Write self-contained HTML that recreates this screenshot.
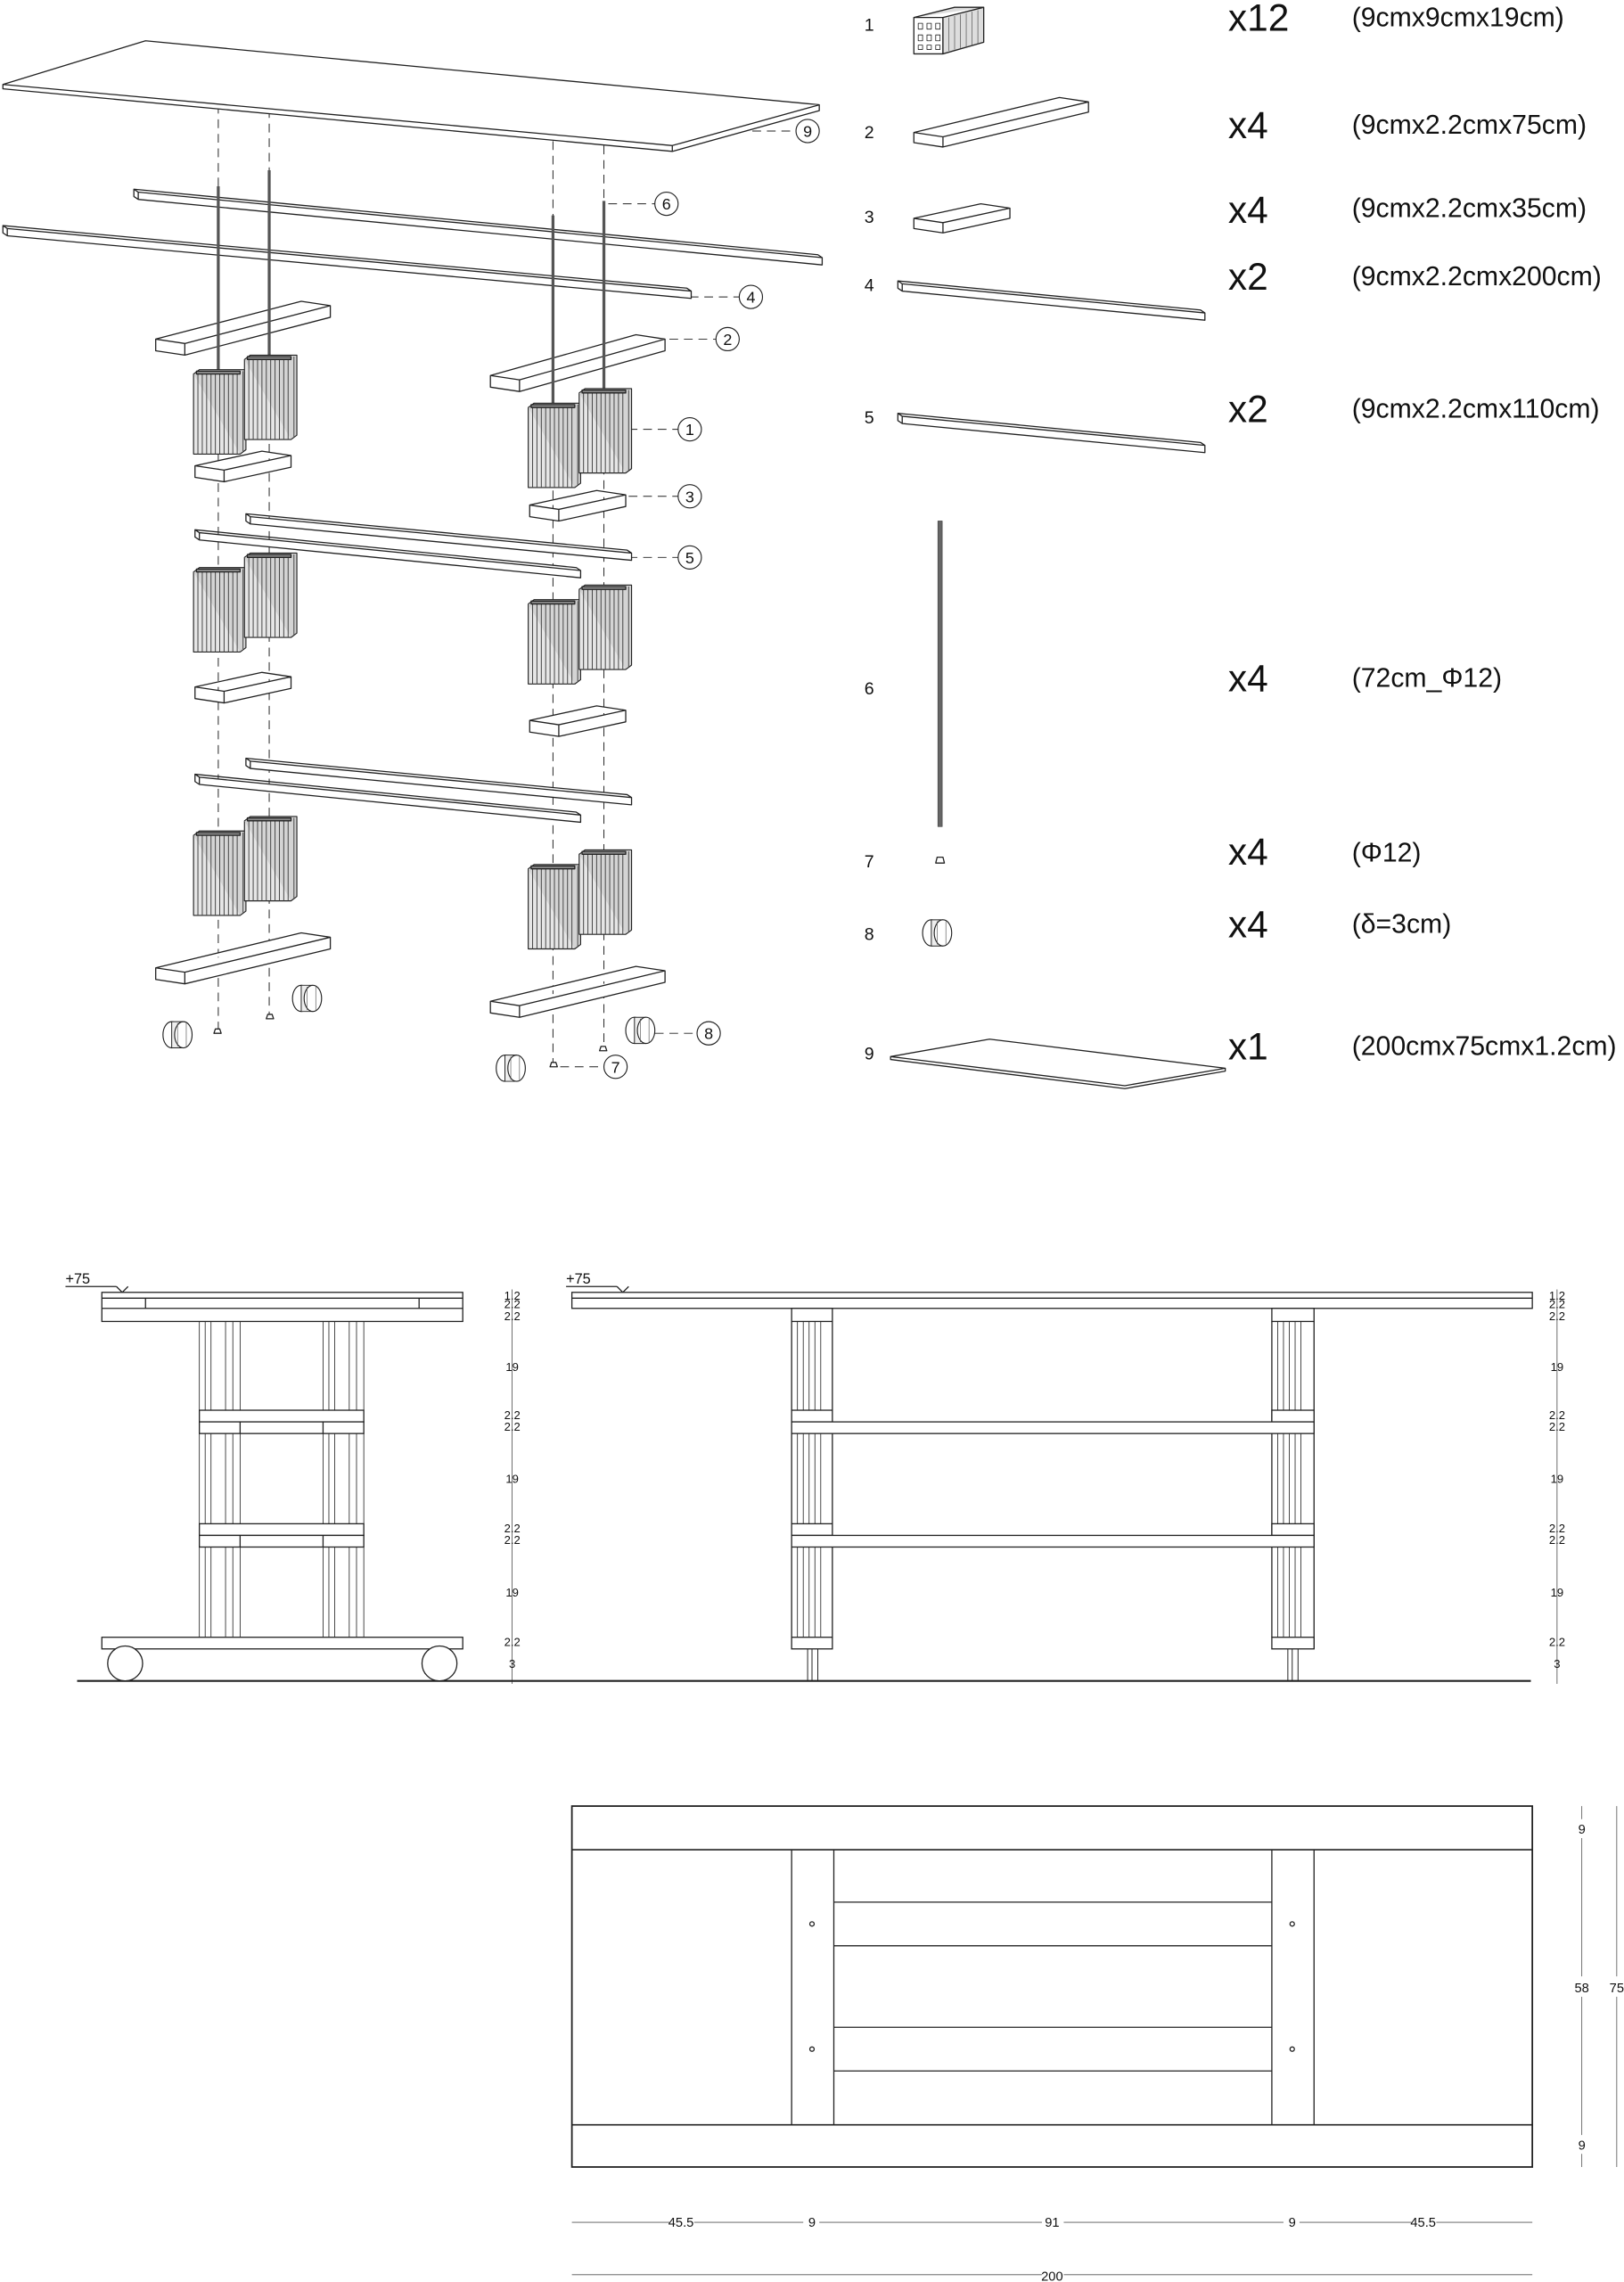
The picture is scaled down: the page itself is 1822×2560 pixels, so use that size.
<!DOCTYPE html>
<html><head><meta charset="utf-8"><style>
html,body{margin:0;padding:0;background:#fff}
svg{display:block}
text{font-family:"Liberation Sans Narrow","Liberation Sans",sans-serif;fill:#111}
</style></head><body>
<svg width="1822" height="2560" viewBox="0 0 1116 1568" xmlns="http://www.w3.org/2000/svg">
<defs>
<g id="blk">
<rect x="0" y="0" width="32" height="55" fill="#e6e6e6" stroke="#222" stroke-width="0.7"/>
<path d="M0 0 l4 -3 l32 0 l0 55 l-4 3" fill="#d4d4d4" stroke="#222" stroke-width="0.7"/>
<path d="M3 0v55M6 0v55M9 0v55M12 0v55M15 0v55M18 0v55M21 0v55M24 0v55M27 0v55M30 0v55M34 -2v55" stroke="#444" stroke-width="0.6"/>
<rect x="2" y="-2" width="30" height="2" fill="#888"/>
</g>
<g id="wh"><ellipse cx="0" cy="0" rx="6" ry="9" fill="#fff" stroke="#222" stroke-width="0.7"/><rect x="0" y="-9" width="8" height="18" fill="#eee" stroke="#222" stroke-width="0.6"/><ellipse cx="8" cy="0" rx="6" ry="9" fill="#fff" stroke="#222" stroke-width="0.7"/><path d="M4 -8v16M10 -8v16" stroke="#555" stroke-width="0.4"/></g>
</defs>
<g fill="#fff" stroke="#222" stroke-width="0.8" stroke-linejoin="round">
<g stroke-dasharray="6 4" stroke-width="0.6" fill="none">
<path d="M150 72V708M185 75V698M380 97V731M415 100V720"/>
<path d="M517 90H547M418 140H450M474 204H508M460 233H492M432 295H466M432 341H466M432 383H466M450 710H479M385 733H415"/>
</g>
<polygon points="2,58 100,28 563,72 563,76 462,104 2,61"/>
<path d="M2 58 L462 100 L563 72 M462 100 V104"/>
<!-- rails -->
<path d="M92 130 l470 45 l3 2 l0 5 l-470 -45 l-3 -2 z M92 130 l3 2 l470 45 M95 132 l0 5"/>
<path d="M2 155 l470 43 l3 2 l0 5 l-470 -43 l-3 -2 z M2 155 l3 2 l470 43 M5 157 l0 5"/>
<!-- short bars top -->
<path d="M107 233 l100 -26 l20 3 l0 8 l-100 26 l-20 -3 z M107 233 l20 3 l100 -26 M127 236 l0 8"/>
<path d="M337 258 l100 -28 l20 3 l0 8 l-100 28 l-20 -3 z M337 258 l20 3 l100 -28 M357 261 l0 8"/>
<!-- rods -->
<g stroke="#555" stroke-width="2" fill="none">
<path d="M150 128V256M185 117V246M380 148V280M415 138V268"/>
</g>
<use href="#blk" x="133" y="257"/><use href="#blk" x="168" y="247"/>
<use href="#blk" x="363" y="280"/><use href="#blk" x="398" y="270"/>
<path d="M134 320 l46 -10 l20 3 l0 8 l-46 10 l-20 -3 z M134 320 l20 3 l46 -10 M154 323 l0 8"/>
<path d="M364 347 l46 -10 l20 3 l0 8 l-46 10 l-20 -3 z M364 347 l20 3 l46 -10 M384 350 l0 8"/>
<path d="M169 353 l262 25 l3 2 l0 5 l-262 -25 l-3 -2 z M169 353 l3 2 l262 25 M172 355 l0 5"/>
<path d="M134 364 l262 26 l3 2 l0 5 l-262 -26 l-3 -2 z M134 364 l3 2 l262 26 M137 366 l0 5"/>
<use href="#blk" x="133" y="393"/><use href="#blk" x="168" y="383"/>
<use href="#blk" x="363" y="415"/><use href="#blk" x="398" y="405"/>
<path d="M134 472 l46 -10 l20 3 l0 8 l-46 10 l-20 -3 z M134 472 l20 3 l46 -10 M154 475 l0 8"/>
<path d="M364 495 l46 -10 l20 3 l0 8 l-46 10 l-20 -3 z M364 495 l20 3 l46 -10 M384 498 l0 8"/>
<path d="M169 521 l262 25 l3 2 l0 5 l-262 -25 l-3 -2 z M169 521 l3 2 l262 25 M172 523 l0 5"/>
<path d="M134 532 l262 26 l3 2 l0 5 l-262 -26 l-3 -2 z M134 532 l3 2 l262 26 M137 534 l0 5"/>
<use href="#blk" x="133" y="574"/><use href="#blk" x="168" y="564"/>
<use href="#blk" x="363" y="597"/><use href="#blk" x="398" y="587"/>
<path d="M107 665 l100 -24 l20 3 l0 8 l-100 24 l-20 -3 z M107 665 l20 3 l100 -24 M127 668 l0 8"/>
<path d="M337 688 l100 -24 l20 3 l0 8 l-100 24 l-20 -3 z M337 688 l20 3 l100 -24 M357 691 l0 8"/>
<use href="#wh" x="118" y="711"/><use href="#wh" x="207" y="686"/>
<use href="#wh" x="347" y="734"/><use href="#wh" x="436" y="708"/>
<path d="M147 710 h5 l-1 -3 h-3 z M183 700 h5 l-1 -3 h-3 z M378 733 h5 l-1 -3 h-3 z M412 722 h5 l-1 -3 h-3 z"/>
<g stroke-width="0.7">
<circle cx="555" cy="90" r="8"/><circle cx="458" cy="140" r="8"/><circle cx="516" cy="204" r="8"/>
<circle cx="500" cy="233" r="8"/><circle cx="474" cy="295" r="8"/><circle cx="474" cy="341" r="8"/>
<circle cx="474" cy="383" r="8"/><circle cx="487" cy="710" r="8"/><circle cx="423" cy="733" r="8"/>
</g>
</g>
<g font-size="11" text-anchor="middle">
<text x="555" y="94">9</text><text x="458" y="144">6</text><text x="516" y="208">4</text>
<text x="500" y="237">2</text><text x="474" y="299">1</text><text x="474" y="345">3</text>
<text x="474" y="387">5</text><text x="487" y="714">8</text><text x="423" y="737">7</text>
</g>

<g font-size="12"><text x="594" y="21">1</text><text x="594" y="95">2</text><text x="594" y="153">3</text><text x="594" y="200">4</text><text x="594" y="291">5</text><text x="594" y="477">6</text><text x="594" y="596">7</text><text x="594" y="646">8</text><text x="594" y="728">9</text></g>
<g font-size="26"><text x="844" y="21">x12</text><text x="844" y="95">x4</text><text x="844" y="153">x4</text><text x="844" y="199">x2</text><text x="844" y="290">x2</text><text x="844" y="475">x4</text><text x="844" y="594">x4</text><text x="844" y="644">x4</text><text x="844" y="728">x1</text></g>
<g font-size="18.5"><text x="929" y="18">(9cmx9cmx19cm)</text><text x="929" y="92">(9cmx2.2cmx75cm)</text><text x="929" y="149">(9cmx2.2cmx35cm)</text><text x="929" y="196">(9cmx2.2cmx200cm)</text><text x="929" y="287">(9cmx2.2cmx110cm)</text><text x="929" y="472">(72cm_Φ12)</text><text x="929" y="592">(Φ12)</text><text x="929" y="641">(δ=3cm)</text><text x="929" y="725">(200cmx75cmx1.2cm)</text></g>
<g fill="#fff" stroke="#222" stroke-width="0.8" stroke-linejoin="round">
<rect x="628" y="12" width="20" height="25"/>
<path d="M648 12 l28 -7 v24 l-28 8 z M628 12 l28 -7 h20" fill="#ddd"/>
<path d="M652 12v23M656 11v23M660 10v23M664 9v23M668 8v23M672 7v23" stroke="#666" stroke-width="0.5"/>
<path d="M631 16h3v4h-3zM637 16h3v4h-3zM643 16h3v4h-3zM631 24h3v4h-3zM637 24h3v4h-3zM643 24h3v4h-3zM631 31h3v3h-3zM637 31h3v3h-3zM643 31h3v3h-3z" stroke-width="0.5"/>
<path d="M628 91 l100 -24 l20 3 l0 7 l-100 24 l-20 -3 z M628 91 l20 3 l100 -24 M648 94 l0 7"/>
<path d="M628 150 l46 -10 l20 3 l0 7 l-46 10 l-20 -3 z M628 150 l20 3 l46 -10 M648 153 l0 7"/>
<path d="M617 193 l208 20 l3 2 l0 5 l-208 -20 l-3 -2 z M617 193 l3 2 l208 20 M620 195 l0 5"/>
<path d="M617 284 l208 20 l3 2 l0 5 l-208 -20 l-3 -2 z M617 284 l3 2 l208 20 M620 286 l0 5"/>
<rect x="644.5" y="358" width="3" height="210" fill="#666" stroke="#444" stroke-width="0.4"/>
<path d="M643 593 h6 l-1 -4 h-4 z"/>
<use href="#wh" x="640" y="641"/>
<path d="M612 726 l68 -12 l162 20 l-69 12 z M612 726 v2 l161 20 l69 -12 v-2" />
</g>

<g fill="#fff" stroke="#222" stroke-width="0.8">
<path d="M53 1155H1052" stroke-width="1.3"/>
<path d="M45 884H80M80 884l4 4 4-4" fill="none"/>
<path d="M389 884H424M424 884l4 4 4-4" fill="none"/>
<rect x="70" y="888" width="248" height="20"/>
<path d="M70 892H318M70 899H318M100 892V899M288 892V899" fill="none"/>
<rect x="70" y="1125" width="248" height="8"/>
<ellipse cx="86" cy="1143" rx="12" ry="12"/><ellipse cx="302" cy="1143" rx="12" ry="12"/>
<g fill="none" stroke-width="0.5">
<path d="M137 908V969M141 908V969M145 908V969M155 908V969M160 908V969M165 908V969M222 908V969M226 908V969M230 908V969M240 908V969M245 908V969M250 908V969"/>
<path d="M137 985V1047M141 985V1047M145 985V1047M155 985V1047M160 985V1047M165 985V1047M222 985V1047M226 985V1047M230 985V1047M240 985V1047M245 985V1047M250 985V1047"/>
<path d="M137 1063V1125M141 1063V1125M145 1063V1125M155 1063V1125M160 1063V1125M165 1063V1125M222 1063V1125M226 1063V1125M230 1063V1125M240 1063V1125M245 1063V1125M250 1063V1125"/>
</g>
<rect x="137" y="969" width="113" height="8"/><rect x="137" y="977" width="113" height="8"/>
<rect x="137" y="1047" width="113" height="8"/><rect x="137" y="1055" width="113" height="8"/>
<path d="M165 977V985M222 977V985M165 1055V1063M222 1055V1063" fill="none"/>
<rect x="393" y="888" width="660" height="11"/>
<path d="M393 892H1053" fill="none"/>
<rect x="544" y="899" width="28" height="9"/><rect x="874" y="899" width="29" height="9"/>
<g fill="none" stroke-width="0.5">
<path d="M548 908V969M552 908V969M556 908V969M560 908V969M564 908V969M878 908V969M882 908V969M886 908V969M890 908V969M894 908V969"/>
<path d="M548 985V1047M552 985V1047M556 985V1047M560 985V1047M564 985V1047M878 985V1047M882 985V1047M886 985V1047M890 985V1047M894 985V1047"/>
<path d="M548 1063V1125M552 1063V1125M556 1063V1125M560 1063V1125M564 1063V1125M878 1063V1125M882 1063V1125M886 1063V1125M890 1063V1125M894 1063V1125"/>
</g>
<path d="M544 908V1133M572 908V1125M874 908V1125M903 908V1133" fill="none"/>
<rect x="544" y="969" width="28" height="8"/><rect x="874" y="969" width="29" height="8"/>
<rect x="544" y="977" width="359" height="8"/>
<rect x="544" y="1047" width="28" height="8"/><rect x="874" y="1047" width="29" height="8"/>
<rect x="544" y="1055" width="359" height="8"/>
<rect x="544" y="1125" width="28" height="8"/><rect x="874" y="1125" width="29" height="8"/>
<path d="M555 1133V1155M558 1133V1155M562 1133V1155M885 1133V1155M888 1133V1155M892 1133V1155" fill="none" stroke-width="0.6"/>
<path d="M352 886V1157M1070 886V1157" fill="none" stroke-width="0.4"/>
</g>
<g font-size="10"><text x="45" y="882">+75</text><text x="389" y="882">+75</text></g>
<g font-size="8" text-anchor="middle">
<text x="352" y="893">1.2</text><text x="352" y="899">2.2</text><text x="352" y="907">2.2</text><text x="352" y="942">19</text><text x="352" y="975">2.2</text><text x="352" y="983">2.2</text><text x="352" y="1019">19</text><text x="352" y="1053">2.2</text><text x="352" y="1061">2.2</text><text x="352" y="1097">19</text><text x="352" y="1131">2.2</text><text x="352" y="1146">3</text>
<text x="1070" y="893">1.2</text><text x="1070" y="899">2.2</text><text x="1070" y="907">2.2</text><text x="1070" y="942">19</text><text x="1070" y="975">2.2</text><text x="1070" y="983">2.2</text><text x="1070" y="1019">19</text><text x="1070" y="1053">2.2</text><text x="1070" y="1061">2.2</text><text x="1070" y="1097">19</text><text x="1070" y="1131">2.2</text><text x="1070" y="1146">3</text>
</g>

<g fill="none" stroke="#222" stroke-width="0.8">
<rect x="393" y="1241" width="660" height="248" stroke-width="1.1"/>
<path d="M393 1271H1053M393 1460H1053" stroke-width="1"/>
<path d="M544 1271V1460M573 1271V1460M874 1271V1460M903 1271V1460"/>
<path d="M573 1307H874M573 1337H874M573 1393H874M573 1423H874"/>
<circle cx="558" cy="1322" r="1.5"/><circle cx="558" cy="1408" r="1.5"/><circle cx="888" cy="1322" r="1.5"/><circle cx="888" cy="1408" r="1.5"/>
<g stroke-width="0.5" stroke="#555">
<path d="M1087 1241V1250M1087 1263V1358M1087 1372V1467M1087 1480V1489M1111 1241V1358M1111 1372V1489"/>
<path d="M393 1527H460M477 1527H552M563 1527H716M731 1527H882M893 1527H970M987 1527H1053"/>
<path d="M393 1563H716M731 1563H1053"/>
</g>
</g>
<g font-size="9" text-anchor="middle">
<text x="1087" y="1260">9</text><text x="1087" y="1369">58</text><text x="1087" y="1477">9</text><text x="1111" y="1369">75</text>
<text x="468" y="1530">45.5</text><text x="558" y="1530">9</text><text x="723" y="1530">91</text><text x="888" y="1530">9</text><text x="978" y="1530">45.5</text>
<text x="723" y="1567">200</text>
</g>
</svg>
</body></html>
